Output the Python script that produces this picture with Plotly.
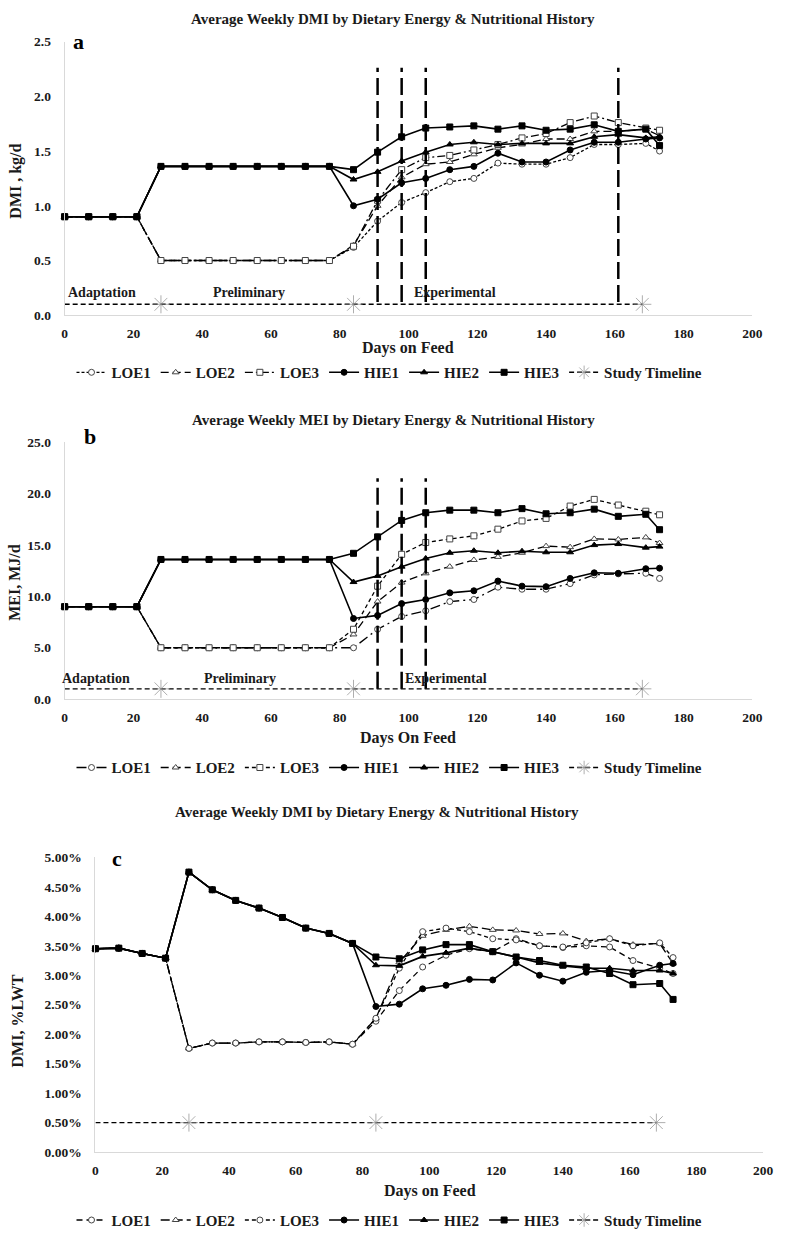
import plotly.graph_objects as go

# ---------------- data ----------------
days = [0, 7, 14, 21, 28, 35, 42, 49, 56, 63, 70, 77, 84, 91, 98, 105,
        112, 119, 126, 133, 140, 147, 154, 161, 169, 173]

# Panel a: DMI, kg/d
dmi_loe1 = [0.90, 0.90, 0.90, 0.90, 0.50, 0.50, 0.50, 0.50, 0.50, 0.50, 0.50, 0.50,
            0.62, 0.86, 1.03, 1.12, 1.22, 1.25, 1.39, 1.38, 1.38, 1.44, 1.56, 1.56, 1.57, 1.50]
dmi_loe2 = [0.90, 0.90, 0.90, 0.90, 0.50, 0.50, 0.50, 0.50, 0.50, 0.50, 0.50, 0.50,
            0.64, 1.00, 1.26, 1.38, 1.40, 1.47, 1.53, 1.56, 1.61, 1.61, 1.68, 1.68, 1.70, 1.64]
dmi_loe3 = [0.90, 0.90, 0.90, 0.90, 0.50, 0.50, 0.50, 0.50, 0.50, 0.50, 0.50, 0.50,
            0.63, 1.05, 1.33, 1.44, 1.46, 1.51, 1.56, 1.62, 1.66, 1.76, 1.82, 1.76, 1.71, 1.69]
dmi_hie1 = [0.90, 0.90, 0.90, 0.90, 1.36, 1.36, 1.36, 1.36, 1.36, 1.36, 1.36, 1.36,
            1.00, 1.06, 1.21, 1.25, 1.33, 1.36, 1.48, 1.40, 1.40, 1.51, 1.58, 1.58, 1.61, 1.62]
dmi_hie2 = [0.90, 0.90, 0.90, 0.90, 1.36, 1.36, 1.36, 1.36, 1.36, 1.36, 1.36, 1.36,
            1.24, 1.31, 1.41, 1.49, 1.56, 1.58, 1.56, 1.57, 1.57, 1.57, 1.63, 1.65, 1.62, 1.63]
dmi_hie3 = [0.90, 0.90, 0.90, 0.90, 1.36, 1.36, 1.36, 1.36, 1.36, 1.36, 1.36, 1.36,
            1.33, 1.49, 1.63, 1.71, 1.72, 1.73, 1.70, 1.73, 1.69, 1.70, 1.74, 1.68, 1.70, 1.55]

# Panel b: MEI, MJ/d
mei_loe1 = [9.0, 9.0, 9.0, 9.0, 5.0, 5.0, 5.0, 5.0, 5.0, 5.0, 5.0, 5.0,
            5.0, 6.8, 8.05, 8.6, 9.5, 9.7, 10.9, 10.7, 10.7, 11.25, 12.1, 12.2, 12.25, 11.75]
mei_loe2 = [9.0, 9.0, 9.0, 9.0, 5.0, 5.0, 5.0, 5.0, 5.0, 5.0, 5.0, 5.0,
            6.3, 9.5, 11.35, 12.25, 12.9, 13.55, 13.85, 14.25, 14.9, 14.8, 15.6, 15.55, 15.75, 15.2]
mei_loe3 = [9.0, 9.0, 9.0, 9.0, 5.0, 5.0, 5.0, 5.0, 5.0, 5.0, 5.0, 5.0,
            6.8, 11.0, 14.1, 15.25, 15.6, 15.9, 16.55, 17.35, 17.6, 18.8, 19.45, 18.9, 18.3, 17.95]
mei_hie1 = [9.0, 9.0, 9.0, 9.0, 13.6, 13.6, 13.6, 13.6, 13.6, 13.6, 13.6, 13.6,
            7.85, 8.15, 9.3, 9.7, 10.35, 10.55, 11.5, 11.0, 10.95, 11.75, 12.3, 12.25, 12.7, 12.75]
mei_hie2 = [9.0, 9.0, 9.0, 9.0, 13.6, 13.6, 13.6, 13.6, 13.6, 13.6, 13.6, 13.6,
            11.4, 12.0, 12.9, 13.7, 14.25, 14.45, 14.25, 14.4, 14.3, 14.3, 15.0, 15.1, 14.75, 14.85]
mei_hie3 = [9.0, 9.0, 9.0, 9.0, 13.6, 13.6, 13.6, 13.6, 13.6, 13.6, 13.6, 13.6,
            14.2, 15.8, 17.4, 18.15, 18.4, 18.4, 18.15, 18.55, 18.05, 18.15, 18.5, 17.8, 18.0, 16.5]

# Panel c: DMI, %LWT
pct_loe1 = [3.45, 3.46, 3.37, 3.29, 1.76, 1.85, 1.85, 1.87, 1.87, 1.86, 1.87, 1.83,
            2.22, 2.74, 3.14, 3.34, 3.45, 3.40, 3.62, 3.50, 3.47, 3.50, 3.48, 3.25, 3.12, 3.03]
pct_loe2 = [3.45, 3.46, 3.37, 3.29, 1.76, 1.85, 1.85, 1.87, 1.87, 1.86, 1.87, 1.83,
            2.27, 3.22, 3.67, 3.77, 3.83, 3.77, 3.76, 3.70, 3.71, 3.58, 3.62, 3.52, 3.54, 3.20]
pct_loe3 = [3.45, 3.46, 3.37, 3.29, 1.76, 1.85, 1.85, 1.87, 1.87, 1.86, 1.87, 1.83,
            2.27, 3.12, 3.74, 3.80, 3.74, 3.62, 3.60, 3.50, 3.48, 3.55, 3.62, 3.50, 3.55, 3.30]
pct_hie1 = [3.45, 3.46, 3.37, 3.29, 4.75, 4.45, 4.27, 4.14, 3.98, 3.80, 3.71, 3.54,
            2.47, 2.51, 2.77, 2.83, 2.93, 2.92, 3.21, 3.00, 2.90, 3.05, 3.08, 3.01, 3.17, 3.20]
pct_hie2 = [3.45, 3.46, 3.37, 3.29, 4.75, 4.45, 4.27, 4.14, 3.98, 3.80, 3.71, 3.54,
            3.17, 3.16, 3.32, 3.38, 3.46, 3.40, 3.31, 3.21, 3.16, 3.12, 3.12, 3.08, 3.08, 3.03]
pct_hie3 = [3.45, 3.46, 3.37, 3.29, 4.75, 4.45, 4.27, 4.14, 3.98, 3.80, 3.71, 3.54,
            3.31, 3.28, 3.43, 3.52, 3.52, 3.40, 3.31, 3.25, 3.17, 3.14, 3.03, 2.84, 2.86, 2.59]

series_names = ["LOE1", "LOE2", "LOE3", "HIE1", "HIE2", "HIE3"]

timeline_days = [0, 28, 84, 168]
timeline_a = [0.1, 0.1, 0.1, 0.1]
timeline_b = [1.0, 1.0, 1.0, 1.0]
timeline_c = [0.5, 0.5, 0.5, 0.5]

event_days_a = [91, 98, 105, 161]
event_days_b = [91, 98, 105]

phase_labels = ["Adaptation", "Preliminary", "Experimental"]
phase_x_a = [11, 53.5, 113.5]
phase_x_b = [9, 51, 111]

titles = ["Average Weekly DMI by Dietary Energy & Nutritional History",
          "Average Weekly MEI by Dietary Energy & Nutritional History",
          "Average Weekly DMI by Dietary Energy & Nutritional History"]
x_titles = ["Days on Feed", "Days On Feed", "Days on Feed"]
y_titles = ["DMI , kg/d", "MEI, MJ/d", "DMI, %LWT"]

# ---------------- styling ----------------
FONT = "Liberation Serif, Times New Roman, serif"
W, H = 786, 1250

def px_x(p):
    return p / W

def px_y(p):
    return 1 - p / H

open_fill = "white"
styles_a = [
    dict(dash="3px,2px", symbol="circle", fill=open_fill, lw=1.3),
    dict(dash="8px,4px", symbol="triangle-up", fill=open_fill, lw=1.3),
    dict(dash="8px,3px,2px,3px", symbol="square", fill=open_fill, lw=1.3),
    dict(dash="solid", symbol="circle", fill="black", lw=1.6),
    dict(dash="solid", symbol="triangle-up", fill="black", lw=1.6),
    dict(dash="solid", symbol="square", fill="black", lw=1.6),
]
styles_b = [
    dict(dash="10px,4px,2px,4px", symbol="circle", fill=open_fill, lw=1.3),
    dict(dash="8px,4px", symbol="triangle-up", fill=open_fill, lw=1.3),
    dict(dash="4px,3px", symbol="square", fill=open_fill, lw=1.3),
    dict(dash="solid", symbol="circle", fill="black", lw=1.6),
    dict(dash="solid", symbol="triangle-up", fill="black", lw=1.6),
    dict(dash="solid", symbol="square", fill="black", lw=1.6),
]
styles_c = [
    dict(dash="6px,4px", symbol="circle", fill=open_fill, lw=1.3),
    dict(dash="9px,4px", symbol="triangle-up", fill=open_fill, lw=1.3),
    dict(dash="4px,3px", symbol="circle", fill=open_fill, lw=1.3),
    dict(dash="solid", symbol="circle", fill="black", lw=1.6),
    dict(dash="solid", symbol="triangle-up", fill="black", lw=1.6),
    dict(dash="solid", symbol="square", fill="black", lw=1.6),
]

panels = [
    dict(xa="x", ya="y", leg="legend",
         data=[dmi_loe1, dmi_loe2, dmi_loe3, dmi_hie1, dmi_hie2, dmi_hie3],
         styles=styles_a, tl=timeline_a,
         xdom=[px_x(62.7), px_x(762)], ydom=[px_y(312), px_y(35)],
         yrange=[0, 2.5], dtick=0.5, fmt=".1f", suffix="",
         legy=px_y(370)),
    dict(xa="x2", ya="y2", leg="legend2",
         data=[mei_loe1, mei_loe2, mei_loe3, mei_hie1, mei_hie2, mei_hie3],
         styles=styles_b, tl=timeline_b,
         xdom=[px_x(62.7), px_x(762)], ydom=[px_y(700.5), px_y(440.7)],
         yrange=[0, 25], dtick=5, fmt=".1f", suffix="",
         legy=px_y(770)),
    dict(xa="x3", ya="y3", leg="legend3",
         data=[pct_loe1, pct_loe2, pct_loe3, pct_hie1, pct_hie2, pct_hie3],
         styles=styles_c, tl=timeline_c,
         xdom=[px_x(94), px_x(773)], ydom=[px_y(1159), px_y(860.7)],
         yrange=[0, 5], dtick=0.5, fmt=".2f", suffix="%",
         legy=px_y(1228)),
]

fig = go.Figure()

for p in panels:
    for name, vals, st in zip(series_names, p["data"], p["styles"]):
        mcol = "#444" if st["fill"] == open_fill else "black"
        fig.add_trace(go.Scatter(
            x=days, y=vals, name=name, mode="lines+markers",
            xaxis=p["xa"], yaxis=p["ya"], legend=p["leg"], cliponaxis=False,
            line=dict(color="black", width=st["lw"], dash=st["dash"]),
            marker=dict(symbol=st["symbol"], size=6, color=st["fill"],
                        line=dict(color=mcol, width=1)),
        ))
    fig.add_trace(go.Scatter(
        x=timeline_days, y=p["tl"], name="Study Timeline", mode="lines+markers",
        xaxis=p["xa"], yaxis=p["ya"], legend=p["leg"], cliponaxis=False,
        line=dict(color="black", width=1.4, dash="5px,3px"),
        marker=dict(symbol="asterisk-open", size=[0, 15, 15, 15],
                    color="#8c8c8c", line=dict(color="#8c8c8c", width=1)),
    ))

shapes = []
for d in event_days_a:
    shapes.append(dict(type="line", xref="x", yref="y", x0=d, x1=d, y0=0.12, y1=2.26,
                       line=dict(color="black", width=2.5, dash="17px,6px")))
for d in event_days_b:
    shapes.append(dict(type="line", xref="x2", yref="y2", x0=d, x1=d, y0=1.0, y1=21.5,
                       line=dict(color="black", width=2.5, dash="17px,6px")))

tick_font = dict(family=FONT, size=13.5, color="#1a1a1a", weight="bold")
title_font = dict(family=FONT, size=16, color="#1a1a1a", weight="bold")

axis_layout = {}
for i, p in enumerate(panels):
    sfx = "" if i == 0 else str(i + 1)
    axis_layout["xaxis" + sfx] = dict(
        domain=p["xdom"], anchor=p["ya"], range=[0, 200], dtick=20, tick0=0,
        showline=True, linecolor="#d9d9d9", linewidth=1, showgrid=False,
        zeroline=False, ticks="", tickfont=tick_font, ticklabelstandoff=6,
    )
    axis_layout["yaxis" + sfx] = dict(
        domain=p["ydom"], anchor=p["xa"], range=p["yrange"], dtick=p["dtick"], tick0=0,
        tickformat=p["fmt"], ticksuffix=p["suffix"],
        showline=True, linecolor="#d9d9d9", linewidth=1, showgrid=False,
        zeroline=False, ticks="", tickfont=tick_font, ticklabelstandoff=10,
    )

legend_common = dict(orientation="h", xanchor="center", x=0.5, yanchor="middle",
                     font=dict(family=FONT, size=15, color="#1a1a1a", weight="bold"),
                     itemwidth=30, bgcolor="rgba(0,0,0,0)")

annotations = []
# chart titles
for t, yy, xx in zip(titles, [12, 418, 815], [397, 397, 380]):
    annotations.append(dict(text=t, xref="paper", yref="paper", x=px_x(xx), y=px_y(yy),
                            showarrow=False, xanchor="center", yanchor="middle",
                            font=dict(family=FONT, size=15, color="#1a1a1a", weight="bold")))
# x titles
for t, yy, xx in zip(x_titles, [345, 740, 1198], [412, 412, 434]):
    annotations.append(dict(text=t, xref="paper", yref="paper", x=px_x(xx), y=px_y(yy),
                            showarrow=False, xanchor="center", yanchor="middle",
                            font=title_font))
# y titles
for t, yy, xx in zip(y_titles, [176, 582, 1026], [13, 11, 15]):
    annotations.append(dict(text=t, xref="paper", yref="paper", x=px_x(xx), y=px_y(yy),
                            showarrow=False, xanchor="center", yanchor="middle",
                            textangle=-90, font=title_font))
# panel letters
for t, xx, yy in zip(["a", "b", "c"], [77, 88, 115.5], [35, 435, 862]):
    annotations.append(dict(text=t, xref="paper", yref="paper", x=px_x(xx), y=px_y(yy),
                            showarrow=False, xanchor="center", yanchor="middle",
                            font=dict(family=FONT, size=22, color="black", weight="bold")))
# phase labels
for t, xx in zip(phase_labels, phase_x_a):
    annotations.append(dict(text=t, xref="x", yref="y", x=xx, y=0.21, showarrow=False,
                            xanchor="center", yanchor="middle",
                            font=dict(family=FONT, size=14, color="#1a1a1a", weight="bold")))
for t, xx in zip(phase_labels, phase_x_b):
    annotations.append(dict(text=t, xref="x2", yref="y2", x=xx, y=2.05, showarrow=False,
                            xanchor="center", yanchor="middle",
                            font=dict(family=FONT, size=14, color="#1a1a1a", weight="bold")))

fig.update_layout(
    width=W, height=H, margin=dict(l=0, r=0, t=0, b=0),
    paper_bgcolor="white", plot_bgcolor="white",
    shapes=shapes, annotations=annotations,
    legend=dict(legend_common, y=panels[0]["legy"]),
    legend2=dict(legend_common, y=panels[1]["legy"]),
    legend3=dict(legend_common, y=panels[2]["legy"]),
    **axis_layout,
)

fig.write_html("out.html",
               config={"displayModeBar": False},
               post_script="document.body.style.margin='0';document.body.style.padding='0';")
